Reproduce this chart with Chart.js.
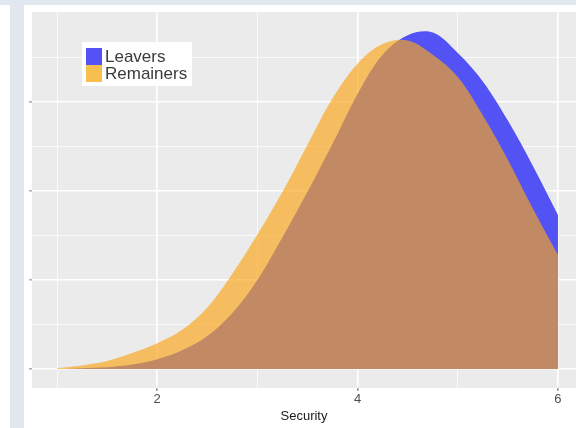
<!DOCTYPE html>
<html>
<head>
<meta charset="utf-8">
<script src="https://cdn.jsdelivr.net/npm/chart.js@4.4.1/dist/chart.umd.min.js"></script>
<style>
html, body { margin: 0; padding: 0; background: #fff; }
#wrap { position: relative; width: 576px; height: 428px; overflow: hidden; }
.band-top { position: absolute; left: 0; top: 0; width: 576px; height: 5px; background: #e1e7ef; }
.band-left { position: absolute; left: 10px; top: 0; width: 14px; height: 428px; background: #e1e7ef; }
canvas { position: absolute; left: 0; top: 0; }
</style>
</head>
<body>
<div id="wrap">
  <div class="band-top"></div>
  <div class="band-left"></div>
  <canvas id="chart" width="576" height="428"></canvas>
</div>
<script>
// density curves
var security = [1, 1.25, 1.5, 1.75, 2, 2.25, 2.5, 2.75, 3, 3.25, 3.5, 3.75, 4, 4.25, 4.5, 4.75, 5, 5.25, 5.5, 5.75, 6];
var leavers = [0, 0.001, 0.002, 0.005, 0.011, 0.021, 0.037, 0.063, 0.1, 0.148, 0.199, 0.253, 0.309, 0.353, 0.375, 0.378, 0.355, 0.323, 0.279, 0.228, 0.173];
var remainers = [0.001, 0.004, 0.009, 0.018, 0.029, 0.044, 0.069, 0.107, 0.151, 0.199, 0.252, 0.304, 0.343, 0.365, 0.369, 0.353, 0.328, 0.285, 0.235, 0.18, 0.128];

var xTicks = [1, 2, 3, 4, 5, 6];
var xLabels = ['', '2', '', '4', '', '6'];
var yTicks = [0, 0.05, 0.1, 0.15, 0.2, 0.25, 0.3, 0.35];

function points(ys) {
    return security.map(function (x, i) { return { x: x, y: ys[i] }; });
}

var panelBg = {
    id: 'panelBg',
    beforeDraw: function (chart) {
        var a = chart.chartArea;
        chart.ctx.save();
        chart.ctx.fillStyle = '#ebebeb';
        chart.ctx.fillRect(a.left, a.top, a.right - a.left, a.bottom - a.top);
        chart.ctx.restore();
    }
};

var boxLegend = {
    id: 'boxLegend',
    afterDraw: function (chart) {
        var c = chart.ctx;
        c.save();
        c.fillStyle = '#ffffff';
        c.fillRect(82, 42, 110, 44);
        c.font = '17px "Liberation Sans", Arial, sans-serif';
        c.textBaseline = 'middle';
        chart.data.datasets.forEach(function (ds, i) {
            c.fillStyle = ds.swatch;
            c.fillRect(86, 48 + i * 17, 16, 17);
            c.fillStyle = '#3a3a3a';
            c.fillText(ds.label, 105, 57 + i * 17);
        });
        c.restore();
    }
};

var ctx = document.getElementById('chart').getContext('2d');
var chart = new Chart(ctx, {
    type: 'line',
    data: {
        datasets: [{
            label: 'Leavers',
            data: points(leavers),
            backgroundColor: '#5252f5',
            swatch: '#5252f5',
            borderWidth: 0,
            pointRadius: 0,
            fill: 'origin',
            tension: 0.35,
            order: 2
        }, {
            label: 'Remainers',
            data: points(remainers),
            backgroundColor: 'rgba(250, 165, 25, 0.66)',
            swatch: '#f6bf4e',
            borderWidth: 0,
            pointRadius: 0,
            fill: 'origin',
            tension: 0.35,
            order: 1
        }]
    },
    options: {
        responsive: false,
        animation: false,
        layout: { padding: { top: 12, left: 0, right: 0, bottom: 0 } },
        plugins: {
            legend: { display: false },
            tooltip: { enabled: false }
        },
        scales: {
            x: {
                type: 'linear',
                min: 0.75,
                max: 6.18,
                afterBuildTicks: function (scale) {
                    scale.ticks = xTicks.map(function (v) { return { value: v }; });
                },
                afterFit: function (scale) { scale.height = 40; },
                border: { display: false },
                grid: {
                    color: '#ffffff',
                    lineWidth: function (c) { return c.index % 2 === 1 ? 1.6 : 0.7; },
                    tickLength: 3,
                    tickColor: function (c) { return c.index % 2 === 1 ? '#9a9a9a' : 'rgba(0,0,0,0)'; }
                },
                ticks: {
                    autoSkip: false,
                    maxRotation: 0,
                    padding: 1,
                    color: '#4d4d4d',
                    font: { family: '"Liberation Sans", Arial, sans-serif', size: 13 },
                    callback: function (v, i) { return xLabels[i]; }
                },
                title: {
                    display: true,
                    text: 'Security',
                    color: '#1a1a1a',
                    padding: { top: 0, bottom: 4 },
                    font: { family: '"Liberation Sans", Arial, sans-serif', size: 13 }
                }
            },
            y: {
                type: 'linear',
                min: -0.0213,
                max: 0.401,
                afterBuildTicks: function (scale) {
                    scale.ticks = yTicks.map(function (v) { return { value: v }; });
                },
                afterFit: function (scale) { scale.width = 32; },
                border: { display: false },
                grid: {
                    color: '#ffffff',
                    lineWidth: function (c) { return c.index % 2 === 0 ? 1.6 : 0.7; },
                    tickLength: 3,
                    tickColor: function (c) { return c.index % 2 === 0 ? '#b0b0b0' : 'rgba(0,0,0,0)'; }
                },
                ticks: { display: false }
            }
        }
    },
    plugins: [panelBg, boxLegend]
});
</script>
</body>
</html>
